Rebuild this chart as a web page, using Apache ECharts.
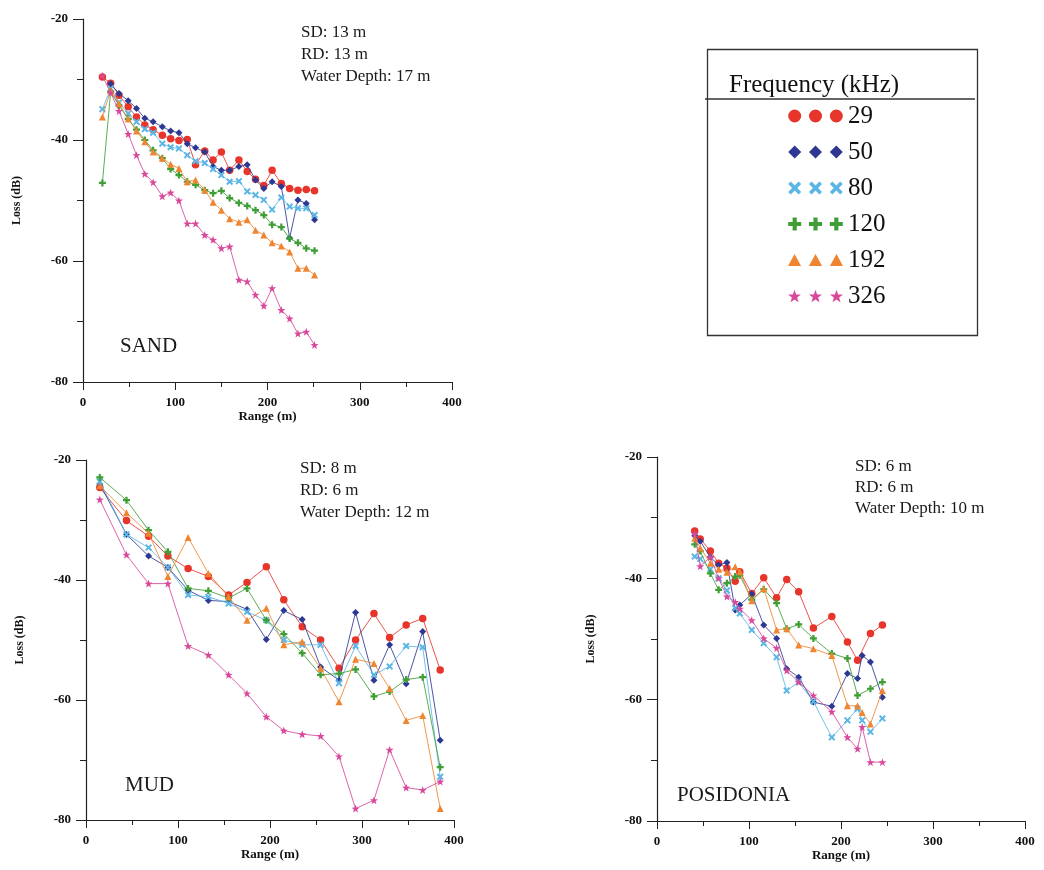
<!DOCTYPE html>
<html><head><meta charset="utf-8">
<script src="https://cdn.jsdelivr.net/npm/echarts@6/dist/echarts.min.js"></script>
<style>html,body{margin:0;padding:0;background:#fff}#c{width:1044px;height:870px}</style>
</head><body><div id="c"></div>
<script>
const frequencies = ['29', '50', '80', '120', '192', '326'];
const yTicks = [-80, -60, -40, -20];
const xTicks = [0, 100, 200, 300, 400];

// SAND
const sandRange = [21,30,39,49,58,67,76,86,95,104,113,122,132,141,150,159,169,178,187,196,205,215,224,233,242,251];
const sand29  = [-29.6,-30.6,-32.6,-34.5,-36.2,-37.5,-38.3,-39.2,-39.8,-40.1,-39.9,-44.1,-41.8,-43.3,-42.0,-45.0,-43.3,-45.2,-46.5,-47.5,-45.0,-47.2,-48.0,-48.3,-48.2,-48.4];
const sand50  = [null,-30.7,-32.3,-33.5,-34.8,-36.4,-37.0,-37.8,-38.5,-38.8,-40.6,-41.3,-42.0,-44.4,-45.0,-45.0,-44.4,-44.1,-46.6,-48.0,-46.9,-47.7,-56.2,-49.9,-50.5,-53.2];
const sand80  = [-34.9,-31.5,-33.8,-35.6,-37.0,-38.2,-38.8,-40.6,-41.2,-41.4,-42.5,-43.5,-43.8,-44.8,-45.8,-46.9,-46.8,-48.5,-49.1,-49.9,-51.5,-49.5,-51.0,-51.3,-51.3,-52.4];
const sand120 = [-47.1,-32.0,-34.3,-36.5,-38.3,-40.0,-41.7,-43.0,-44.8,-45.8,-46.9,-47.4,-48.3,-48.8,-48.4,-49.6,-50.4,-50.9,-51.6,-52.4,-54.0,-54.4,-56.3,-57.0,-57.9,-58.3];
const sand192 = [-36.2,-31.8,-34.0,-36.5,-38.5,-40.3,-42.0,-43.0,-44.0,-44.7,-46.9,-46.6,-48.3,-50.3,-51.6,-53.0,-53.6,-53.2,-54.9,-55.7,-57.0,-57.5,-58.5,-61.2,-61.2,-62.3];
const sand326 = [-29.4,-32.2,-35.2,-39.0,-42.5,-45.6,-47.0,-49.3,-48.7,-50.0,-53.8,-53.8,-55.7,-56.5,-57.9,-57.6,-63.1,-63.4,-65.6,-67.4,-64.5,-68.1,-69.5,-72.0,-71.7,-73.9];

// MUD
const mudRange = [15,44,68,89,111,133,155,175,196,215,235,255,275,293,313,330,348,366,385];
const mud29  = [-24.6,-30.1,-32.7,-36.0,-38.1,-39.4,-42.5,-40.4,-37.8,-43.3,-47.8,-50.0,-54.7,-50.0,-45.6,-49.6,-47.5,-46.4,-55.0];
const mud50  = [-24.0,-32.4,-36.0,-37.9,-41.7,-43.4,-43.6,-44.9,-49.9,-45.1,-46.6,-54.5,-56.7,-45.4,-56.7,-50.8,-57.3,-48.6,-66.7];
const mud80  = [-23.6,-32.4,-34.6,-37.9,-42.5,-42.8,-43.9,-45.3,-46.7,-50.0,-50.8,-50.8,-57.2,-51.0,-55.8,-54.4,-51.0,-51.2,-72.8];
const mud120 = [-22.9,-26.7,-31.7,-35.3,-41.4,-41.8,-43.0,-41.4,-46.7,-49.0,-52.2,-55.8,-55.6,-54.9,-59.4,-58.6,-56.6,-56.2,-71.2];
const mud192 = [-24.3,-28.8,-32.2,-39.4,-32.9,-38.9,-42.8,-46.7,-44.7,-50.8,-50.3,-54.7,-60.3,-53.2,-53.9,-58.1,-63.4,-62.6,-78.1];
const mud326 = [-26.6,-35.8,-40.6,-40.6,-51.0,-52.5,-55.8,-58.9,-62.8,-65.1,-65.7,-66.0,-69.4,-78.1,-76.7,-68.3,-74.6,-75.0,-73.6];

// POSIDONIA
const posRange = [41,47,58,67,76,85,90,103,116,130,141,154,170,190,207,218,223,232,245];
const pos29  = [-32.2,-33.5,-35.5,-37.5,-38.3,-40.5,-38.9,-42.5,-39.9,-43.2,-40.2,-42.2,-48.2,-46.3,-50.5,-53.5,null,-49.1,-47.7];
const pos50  = [-33.0,-33.9,-36.5,-37.8,-37.4,-45.2,-44.4,-42.6,-47.7,-49.9,-54.9,-56.3,-60.4,-61.1,-55.7,-56.5,-52.7,-53.8,-59.6];
const pos80  = [-36.4,-36.8,-38.5,-40.0,-42.0,-44.9,-45.8,-48.5,-50.7,-53.0,-58.5,-57.1,-60.3,-66.2,-63.4,-61.5,-63.4,-65.3,-63.1];
const pos120 = [-34.4,-35.5,-39.2,-41.9,-40.8,-39.7,-39.5,-43.5,-41.8,-44.1,-48.3,-47.6,-49.9,-52.4,-53.2,-59.3,null,-58.2,-57.1];
const pos192 = [-33.4,-35.0,-37.5,-38.5,-39.0,-38.1,-38.9,-43.7,-41.7,-48.5,-48.3,-51.0,-51.6,-52.7,-61.0,-61.0,-62.1,-64.0,-58.5];
const pos326 = [-32.6,-38.0,-36.5,-40.0,-43.0,-43.9,-45.0,-46.9,-49.9,-51.5,-55.2,-57.1,-59.3,-62.0,-66.2,-68.1,-64.5,-70.3,-70.3];

const panels = [
  { name: 'SAND', ranges: sandRange, series: [sand29, sand50, sand80, sand120, sand192, sand326],
    notes: ['SD: 13 m', 'RD: 13 m', 'Water Depth: 17 m'] },
  { name: 'MUD', ranges: mudRange, series: [mud29, mud50, mud80, mud120, mud192, mud326],
    notes: ['SD: 8 m', 'RD: 6 m', 'Water Depth: 12 m'] },
  { name: 'POSIDONIA', ranges: posRange, series: [pos29, pos50, pos80, pos120, pos192, pos326],
    notes: ['SD: 6 m', 'RD: 6 m', 'Water Depth: 10 m'] }
];

// ---- styling / layout ----
const colors = ['#e8352b', '#2c3892', '#5bb6e6', '#3f9f36', '#ef8530', '#d8489b'];
const grids = [
  { left: 83, top: 19, width: 369, height: 363 },
  { left: 86, top: 460, width: 368, height: 360 },
  { left: 657, top: 457, width: 368, height: 364 }
];
const notePos = [[301, 22, 22], [300, 458, 22], [855, 456, 21]];
const labelPos = [[120, 336], [125, 775], [677, 785]];

// unit shapes in a 10x10 box
const shapes = {
  circle: dx => `M${dx},5A5,5 0 1,1 ${dx + 10},5A5,5 0 1,1 ${dx},5Z`,
  poly: pts => dx => 'M' + pts.map(p => (p[0] + dx) + ',' + p[1]).join('L') + 'Z'
};
const diamondPts = [[5,0],[10,5],[5,10],[0,5]];
const crossPts = [[0,2],[2,0],[5,3],[8,0],[10,2],[7,5],[10,8],[8,10],[5,7],[2,10],[0,8],[3,5]];
const plusPts = [[3.4,0],[6.6,0],[6.6,3.4],[10,3.4],[10,6.6],[6.6,6.6],[6.6,10],[3.4,10],[3.4,6.6],[0,6.6],[0,3.4],[3.4,3.4]];
const triPts = [[5,0.5],[10,9.5],[0,9.5]];
const starPts = [];
for (let k = 0; k < 10; k++) {
  const a = -Math.PI / 2 + k * Math.PI / 5, rr = k % 2 ? 2.1 : 5.2;
  starPts.push([+(5 + rr * Math.cos(a)).toFixed(2), +(5.3 + rr * Math.sin(a)).toFixed(2)]);
}
const shapeFns = [shapes.circle, shapes.poly(diamondPts), shapes.poly(crossPts), shapes.poly(plusPts), shapes.poly(triPts), shapes.poly(starPts)];
const seriesSymbols = shapeFns.map(f => 'path://' + f(0));
const legendIcons = shapeFns.map(f => 'path://' + f(0) + f(16) + f(32));
const symbolSizes = [7.5, 7, 7, 7, 7, 8];

const serifFont = '"Liberation Serif", "Times New Roman", serif';

const xAxes = [], yAxes = [], series = [], graphics = [];
panels.forEach((p, gi) => {
  xAxes.push({
    type: 'value', gridIndex: gi, min: 0, max: 400, interval: 100,
    name: 'Range (m)', nameLocation: 'middle', nameGap: 24,
    nameTextStyle: { fontFamily: serifFont, fontWeight: 'bold', fontSize: 13, color: '#111' },
    axisLine: { show: true, onZero: false, lineStyle: { color: '#222', width: 1.2 } },
    axisTick: { show: true, length: 8, lineStyle: { color: '#222' } },
    minorTick: { show: true, splitNumber: 2, length: 5, lineStyle: { color: '#222' } },
    splitLine: { show: false },
    axisLabel: { margin: 14, fontFamily: serifFont, fontWeight: 'bold', fontSize: 13, color: '#111',
      formatter: v => xTicks.includes(v) ? String(v) : '' }
  });
  yAxes.push({
    type: 'value', gridIndex: gi, min: -80, max: -20, interval: 20,
    name: 'Loss (dB)', nameLocation: 'middle', nameGap: 60, nameRotate: 90,
    nameTextStyle: { fontFamily: serifFont, fontWeight: 'bold', fontSize: 12, color: '#111' },
    axisLine: { show: true, onZero: false, lineStyle: { color: '#222', width: 1.2 } },
    axisTick: { show: true, length: 10, lineStyle: { color: '#222' } },
    minorTick: { show: true, splitNumber: 2, length: 6, lineStyle: { color: '#222' } },
    splitLine: { show: false },
    axisLabel: { margin: 15, fontFamily: serifFont, fontWeight: 'bold', fontSize: 13, color: '#111',
      formatter: v => yTicks.includes(v) ? String(v) : '' }
  });
  p.series.forEach((vals, si) => {
    series.push({
      type: 'line', name: frequencies[si], xAxisIndex: gi, yAxisIndex: gi,
      data: p.ranges.map((r, i) => [r, vals[i]]),
      connectNulls: true,
      symbol: seriesSymbols[si], symbolSize: symbolSizes[si],
      itemStyle: { color: colors[si] },
      lineStyle: { color: colors[si], width: 1, opacity: 0.85 },
      z: 2 + si
    });
  });
  graphics.push({
    type: 'text', left: notePos[gi][0], top: notePos[gi][1],
    style: { text: p.notes.join('\n'), font: '17px ' + serifFont, lineHeight: notePos[gi][2], fill: '#1a1a1a' }
  });
  graphics.push({
    type: 'text', left: labelPos[gi][0], top: labelPos[gi][1],
    style: { text: p.name, font: '21px ' + serifFont, fill: '#1a1a1a' }
  });
});

// legend box
graphics.push({ type: 'rect', left: 705, top: 47, shape: { width: 270, height: 286 },
  style: { fill: 'none', stroke: '#333', lineWidth: 1.3 } });
graphics.push({ type: 'line', shape: { x1: 705, y1: 99, x2: 975, y2: 99 },
  style: { stroke: '#333', lineWidth: 1.3 } });
graphics.push({ type: 'text', left: 729, top: 73,
  style: { text: 'Frequency (kHz)', font: '25px ' + serifFont, fill: '#111' } });

const chart = echarts.init(document.getElementById('c'), null, { renderer: 'canvas' });
chart.setOption({
  animation: false,
  backgroundColor: '#fff',
  grid: grids.map(g => Object.assign({ containLabel: false }, g)),
  xAxis: xAxes,
  yAxis: yAxes,
  legend: {
    orient: 'vertical', left: 783, top: 96, itemWidth: 55, itemHeight: 13, itemGap: 6,
    selectedMode: false,
    textStyle: { fontFamily: serifFont, fontSize: 25, color: '#111', lineHeight: 28, padding: [2, 0, 0, 0] },
    data: frequencies.map((f, i) => ({ name: f, icon: legendIcons[i], itemStyle: { color: colors[i] } }))
  },
  series: series,
  graphic: graphics
});
</script>
</body></html>
